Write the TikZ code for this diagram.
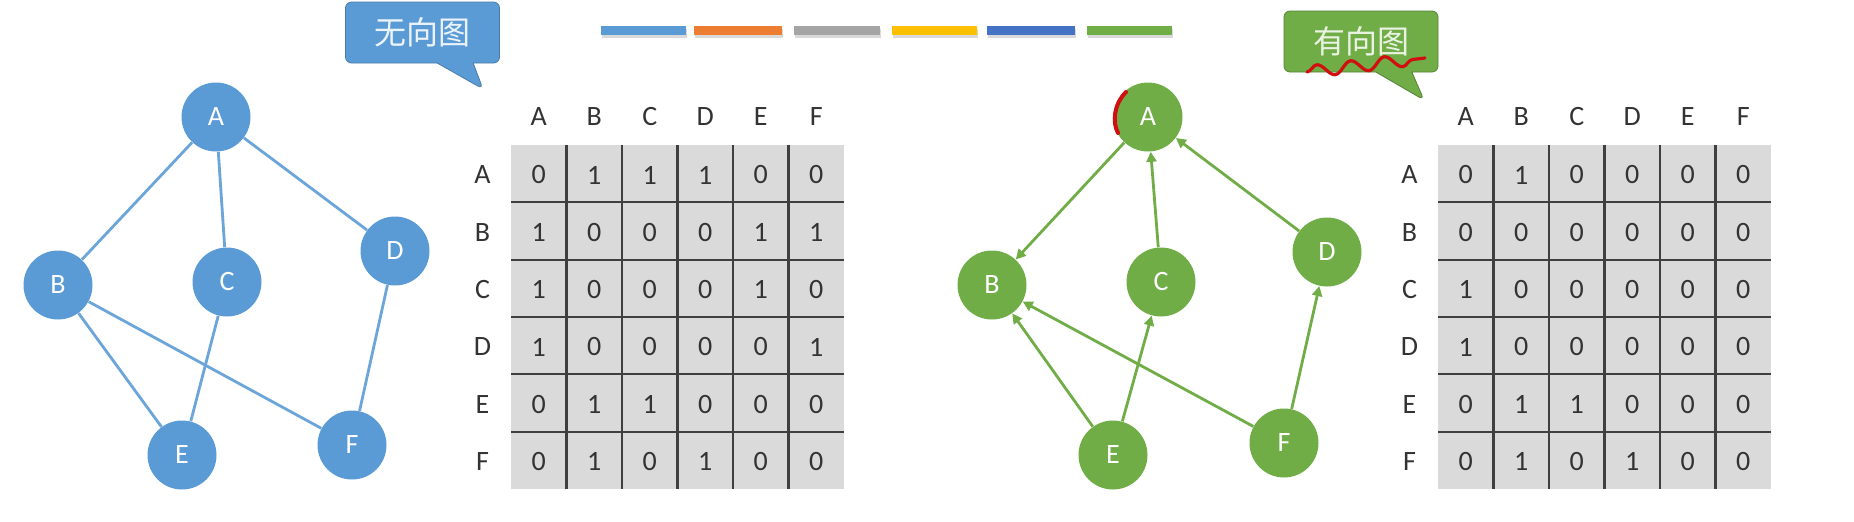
\documentclass[tikz,border=0pt]{standalone}
\usepackage{fontspec}
\setmainfont{Carlito}
\newfontfamily\cjkfont{Noto Sans CJK SC}
\usetikzlibrary{arrows.meta}
\usetikzlibrary{shapes.callouts}
\usetikzlibrary{decorations.pathmorphing}
\definecolor{offblue}{HTML}{5B9BD5}
\definecolor{offgreen}{HTML}{70AD47}
\definecolor{offorange}{HTML}{ED7D31}
\definecolor{offgray}{HTML}{A5A5A5}
\definecolor{offyellow}{HTML}{FFC000}
\definecolor{offnavy}{HTML}{4472C4}
\definecolor{gridgray}{HTML}{DADADA}
\definecolor{gridline}{HTML}{3F3F3F}
\definecolor{inkred}{HTML}{D01010}
\tikzset{
  vtx/.style={
    circle,
    minimum size=34.5pt,
    inner sep=0,
    text=white,
    font=\fontsize{14}{14}\selectfont,
  },
  uvtx/.style={
    vtx,
    fill=offblue,
  },
  dvtx/.style={
    vtx,
    fill=offgreen,
  },
  uedge/.style={
    draw=offblue!90!white,
    line width=1.4pt,
  },
  dedge/.style={
    draw=offgreen,
    line width=1.4pt,
    -{Triangle[length=5pt,width=5pt]},
  },
  cell/.style={
    inner sep=0,
    text=black!80,
    font=\fontsize{14}{14}\selectfont,
  },
  rule/.style={
    draw=gridline,
    line width=1.1pt,
  },
  tag/.style={
    rectangle callout,
    rounded corners=3pt,
    minimum width=77pt,
    minimum height=30.5pt,
    callout pointer width=18pt,
    font=\cjkfont\fontsize{16}{16}\selectfont,
  },
  swatch/.style={
    line width=4.5pt,
  },
  scribble/.style={
    draw=inkred,
    line width=1.6pt,
    line cap=round,
  }
}
\newcommand{\adjgrid}[3] {%
  \fill[gridgray] (#1,145) rectangle ++(333,344); % cells
  \foreach \i in {1,...,5} {
    \draw[rule] (#1+\i*55.5,145) -- ++(0,344);
    \draw[rule] (#1,145+\i*57.33) -- ++(333,0);
  }
  \foreach \l [count=\i from 0] in {A,B,C,D,E,F} {
    \node[cell] (#2-col-\l) at (#1+27.75+\i*55.5,117) {\l};
    \node[cell] (#2-row-\l) at (#1-28.5,175+\i*57.33) {\l};
  }
  \foreach \row [count=\r from 0] in {#3} {
    \foreach \v [count=\c from 0] in \row {
      \node[cell] (#2-\r-\c) at (#1+27.75+\c*55.5,175+\r*57.33) {\v};
    }
  }
}

\begin{document}
\begin{tikzpicture}[x=0.5pt,y=-0.5pt]
    \useasboundingbox (0,0) rectangle (1854,521);

    % colour swatches
    \foreach \a/\b/\c in {601/686/offblue,694/782/offorange,794/880/offgray,
                          892/977/offyellow,987/1075/offnavy,1087/1172/offgreen} {
      \draw[swatch,black!15] (\a+1,33) -- (\b+1,33);
      \draw[swatch,\c] (\a,30) -- (\b,30);
    }

    \begin{scope}
      \node[tag,fill=offblue,draw=offblue!80!black,text=white!88!offblue,
            callout absolute pointer={(483,89)}] at (422.5,32.5) (utag) {无向图};

      \node[uvtx] at (216,117) (uA) {A};
      \node[uvtx] at (58,285) (uB) {B};
      \node[uvtx] at (227,282) (uC) {C};
      \node[uvtx] at (395,251) (uD) {D};
      \node[uvtx] at (182,455) (uE) {E};
      \node[uvtx] at (352,445) (uF) {F};

      \draw[uedge] (uA) -- (uB);
      \draw[uedge] (uA) -- (uC);
      \draw[uedge] (uA) -- (uD);
      \draw[uedge] (uB) -- (uE);
      \draw[uedge] (uB) -- (uF);
      \draw[uedge] (uC) -- (uE);
      \draw[uedge] (uD) -- (uF);

      \adjgrid{511}{um}{{0,1,1,1,0,0},{1,0,0,0,1,1},{1,0,0,0,1,0},
                        {1,0,0,0,0,1},{0,1,1,0,0,0},{0,1,0,1,0,0}}
    \end{scope}

    \begin{scope}
      \node[tag,fill=offgreen,draw=offgreen!75!black,text=white!85!offgreen,
            callout absolute pointer={(1424,100)}] at (1361,41.5) (dtag) {有向图};
      \draw[scribble,decorate,decoration={snake,amplitude=3pt,segment length=17pt}]
        (1307,72) -- (1425,58); % underline

      \node[dvtx] at (1148,117) (dA) {A};
      \node[dvtx] at (992,285) (dB) {B};
      \node[dvtx] at (1161,282) (dC) {C};
      \node[dvtx] at (1327,252) (dD) {D};
      \node[dvtx] at (1113,455) (dE) {E};
      \node[dvtx] at (1284,443) (dF) {F};

      \draw[scribble,line width=2pt] (1126,92) .. controls (1114,104) and (1112,122) .. (1118,133);

      \draw[dedge] (dA) -- (dB);
      \draw[dedge] (dC) -- (dA);
      \draw[dedge] (dD) -- (dA);
      \draw[dedge] (dE) -- (dB);
      \draw[dedge] (dE) -- (dC);
      \draw[dedge] (dF) -- (dB);
      \draw[dedge] (dF) -- (dD);

      \adjgrid{1438}{dm}{{0,1,0,0,0,0},{0,0,0,0,0,0},{1,0,0,0,0,0},
                         {1,0,0,0,0,0},{0,1,1,0,0,0},{0,1,0,1,0,0}}
    \end{scope}
  \end{tikzpicture}
\end{document}
